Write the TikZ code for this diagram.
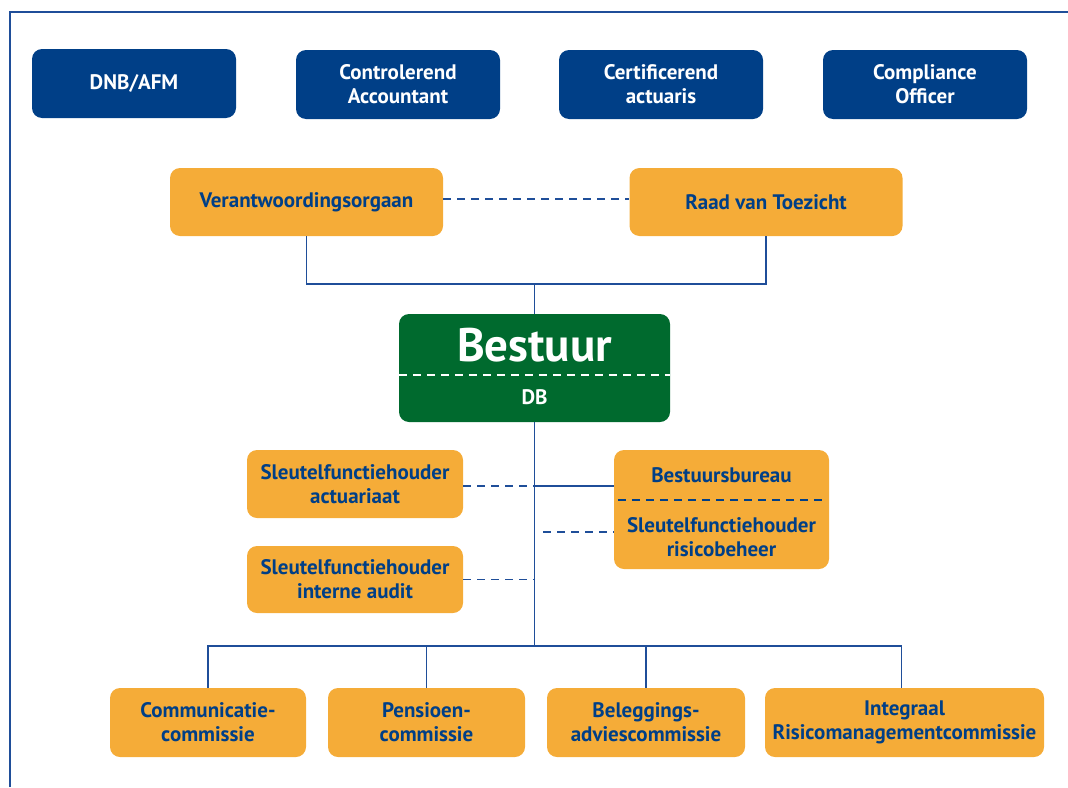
\documentclass[tikz,border=0pt]{standalone}
\usepackage{fontspec}
\setmainfont{PT Sans}
\definecolor{navy}{RGB}{0,63,135}
\definecolor{orng}{RGB}{245,172,56}
\definecolor{grn}{RGB}{0,106,46}
\definecolor{linec}{RGB}{31,78,153}
\begin{document}
\begin{tikzpicture}[x=1pt,y=-1pt,
  base/.style={rounded corners=10pt, inner sep=0pt, align=center,
    font=\bfseries\fontsize{21}{24}\selectfont},
  bluebox/.style={base, fill=navy, text=white, minimum width=204pt, minimum height=69pt},
  orbox/.style={base, fill=orng, text=navy},
  conn/.style={draw=linec, line width=1.4pt},
  dconn/.style={conn, dash pattern=on 8pt off 6pt},
  txt/.style={inner sep=0pt, align=center, font=\bfseries\fontsize{21}{24}\selectfont}]
\useasboundingbox (0,0) rectangle (1068,787);
\draw[conn] (10,787) -- (10,12) -- (1068,12);
% top row
\node[bluebox] (dnb) at (134,83.5) {DNB/AFM};
\node[bluebox] (ca) at (398,84.5) {Controlerend\\Accountant};
\node[bluebox] (cact) at (661,84.5) {Certificerend\\actuaris};
\node[bluebox] (co) at (925,84.5) {Compliance\\Officer};
% oversight
\node[orbox, minimum width=273pt, minimum height=68pt] (vo) at (306.5,202) {Verantwoordingsorgaan};
\node[orbox, minimum width=273pt, minimum height=68pt] (rvt) at (766,202) {Raad van Toezicht};
\draw[dconn] ([yshift=3pt]vo.east) -- ([yshift=3pt]rvt.west);
% bestuur
\node[base, fill=grn, minimum width=271pt, minimum height=108pt] (bst) at (534.5,368) {};
\node[inner sep=0pt, text=white, font=\bfseries\fontsize{47}{50}\selectfont] (bstT) at (534.5,345) {Bestuur};
\node[txt, text=white] (dbT) at (534.5,397) {DB};
\draw[white, line width=1.3pt, dash pattern=on 8pt off 6pt] ([yshift=-7pt]bst.west) -- ([yshift=-7pt]bst.east);
\coordinate (j1) at (534.5,284);
\draw[conn] (vo.south) |- (j1) -| (rvt.south);
\draw[conn] (j1) -- (bst.north);
% side functions
\node[orbox, minimum width=216pt, minimum height=68pt] (act) at (355,484) {Sleutelfunctiehouder\\actuariaat};
\node[orbox, minimum width=216pt, minimum height=67pt] (aud) at (355,579.5) {Sleutelfunctiehouder\\interne audit};
\node[base, fill=orng, minimum width=215pt, minimum height=119pt] (bb) at (721.5,509.5) {};
\node[txt, text=navy] (bbT) at (721.5,475) {Bestuursbureau};
\node[txt, text=navy] (rbT) at (721.5,537) {Sleutelfunctiehouder\\risicobeheer};
\draw[draw=navy, line width=1.3pt, dash pattern=on 8pt off 6pt] ([xshift=4pt,yshift=9.5pt]bb.west) -- ([xshift=-4pt,yshift=9.5pt]bb.east);
\coordinate (j2) at (534.5,646);
\coordinate (rbend) at (543,532);
\draw[conn] (bst.south) -- (j2);
\draw[dconn] ([yshift=-2pt]act.east) -- ([yshift=-2pt]act.east -| bst.south);
\draw[conn] ([yshift=-2pt]act.east -| bst.south) -- ([yshift=-2pt]act.east -| bb.west);
\draw[dconn] (rbend) -- (rbend -| bb.west);
\draw[dconn] (aud.east) -- (aud.east -| bst.south);
% committees
\node[orbox, minimum width=196pt, minimum height=69pt] (com) at (208,722.5) {Communicatie-\\commissie};
\node[orbox, minimum width=197pt, minimum height=69pt] (pen) at (426.5,722.5) {Pensioen-\\commissie};
\node[orbox, minimum width=198pt, minimum height=69pt] (bel) at (646,722.5) {Beleggings-\\adviescommissie};
\node[orbox, minimum width=279pt, minimum height=69pt] (irm) at (904.5,722.5) {Integraal\\Risicomanagementcommissie};
\draw[conn] (com.north) |- (j2) -| ([xshift=-3pt]irm.north);
\draw[conn] (pen.north) -- (pen.north |- j2);
\draw[conn] (bel.north) -- (bel.north |- j2);
\end{tikzpicture}
\end{document}
